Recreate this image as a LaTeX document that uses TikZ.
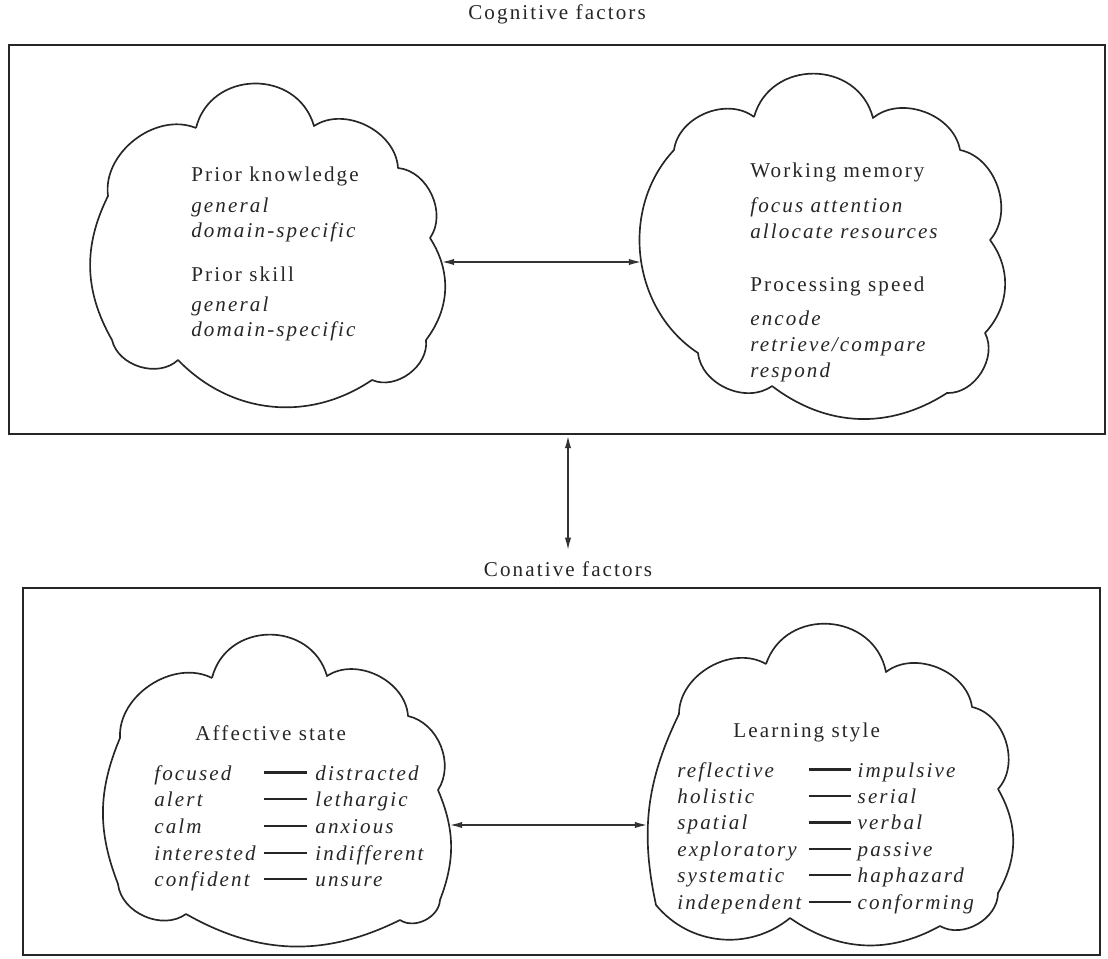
\documentclass[tikz,border=0pt]{standalone}
\usepackage{fontspec}
\setmainfont{Liberation Serif}[LetterSpace=10]
\usepackage{tikz}
\usetikzlibrary{arrows.meta,positioning}
\newcommand{\pairdash}{\rule[0.3em]{24pt}{1.25pt}}

\begin{document}
\begin{tikzpicture}[x=0.02cm,y=-0.02cm,
  every node/.style={font=\fontsize{12}{14.2}\selectfont,text=black!85},
  frame/.style={draw=black!85,line width=1.2pt,inner sep=0pt},
  puffline/.style={draw=black!85,line width=0.95pt,line join=round},
  puff/.style={bend left=60,looseness=1},
  tall/.style={bend left=75,looseness=1.3},
  flat/.style={bend left=#1,looseness=1},
  head/.style={inner sep=0pt},
  block/.style={align=left,inner sep=0pt,anchor=north west,font=\fontsize{12}{14.2}\selectfont\itshape},
  pairs/.style={inner sep=0pt,anchor=base west,font=\fontsize{12}{14.2}\selectfont\itshape},
  twoway/.style={{Latex[length=7.5pt,width=3.6pt]}-{Latex[length=7.5pt,width=3.6pt]},line width=1.1pt,draw=black!80}]
\useasboundingbox (0,0) rectangle (1108,959);

\node[head,anchor=base] (coghead) at (557,20) {Cognitive factors};
\node[frame,minimum width=21.92cm,minimum height=7.78cm] (cogbox) at (557,239.5) {};

% clouds of the cognitive factors
\draw[puffline] (196,128) to[tall] (314,126) to[puff] (398,168) to[puff] (430,238)
  to[flat=35] (426,340) to[puff] (372,380) to[flat=40] (178,360) to[puff] (112,340)
  to[flat=28] (108,196) to[puff] (196,128);
\draw[puffline] (754,117) to[tall] (873,118) to[puff] (960,150) to[puff] (990,240)
  to[flat=40] (985,333) to[puff] (947,393) to[flat=35] (772,386) to[puff] (698,353)
  to[flat=50] (674,150) to[puff] (754,117);
\coordinate (knowl-e) at (441,262);
\coordinate (memory-w) at (642,262);

\node[block] (knowltext) at (191,167) {{\upshape Prior knowledge}\\[3pt]
general\\
domain-specific\\[11pt]
{\upshape Prior skill}\\[3pt]
general\\
domain-specific};
\node[block,font=\fontsize{12}{14.8}\selectfont\itshape] (memtext) at (750,163) {{\upshape Working memory}\\[5pt]
focus attention\\
allocate resources\\[15pt]
{\upshape Processing speed}\\[5pt]
encode\\
retrieve/compare\\
respond};
\draw[twoway] (knowl-e) -- (memory-w);

\node[head,anchor=base] (conhead) at (568,576) {Conative factors};
\draw[twoway] (cogbox.south -| conhead.north) -- ([yshift=0.2cm]conhead.north);
\node[frame,minimum width=21.54cm,minimum height=7.34cm] (conbox) at (561.5,771.5) {};

% clouds of the conative factors
\draw[puffline] (212,678) to[tall] (327,676) to[puff] (408,716) to[flat=55] (438,790)
  to[flat=22] (440,900) to[puff] (400,920) to[flat=28] (186,914) to[puff] (118,884)
  to[flat=22] (120,738) to[puff] (212,678);
\draw[puffline] (766,664) to[tall] (886,672) to[puff] (972,707) to[puff] (998,789)
  to[flat=30] (998,893) to[puff] (940,926) to[flat=32] (790,918) to[flat=45] (656,905)
  to[flat=19] (679,714) to[puff] (766,664);
\coordinate (affect-e) at (449,825);
\coordinate (style-w) at (648,825);

\node[head,anchor=base west] (affecthead) at (195,740) {Affective state};
\node[pairs] (affectlist) at (154,780) {\renewcommand{\arraystretch}{1.07}%
\begin{tabular}[t]{@{}l@{\hspace{5pt}}c@{\hspace{5pt}}l@{}}
focused & \pairdash & distracted\\
alert & \pairdash & lethargic\\
calm & \pairdash & anxious\\
interested & \pairdash & indifferent\\
confident & \pairdash & unsure
\end{tabular}};
\node[head,anchor=base west] (stylehead) at (733,737) {Learning style};
\node[pairs] (stylelist) at (677,777) {\renewcommand{\arraystretch}{1.06}%
\begin{tabular}[t]{@{}l@{\hspace{4pt}}c@{\hspace{4pt}}l@{}}
reflective & \pairdash & impulsive\\
holistic & \pairdash & serial\\
spatial & \pairdash & verbal\\
exploratory & \pairdash & passive\\
systematic & \pairdash & haphazard\\
independent & \pairdash & conforming
\end{tabular}};
\draw[twoway] (affect-e) -- (style-w);
\end{tikzpicture}
\end{document}
